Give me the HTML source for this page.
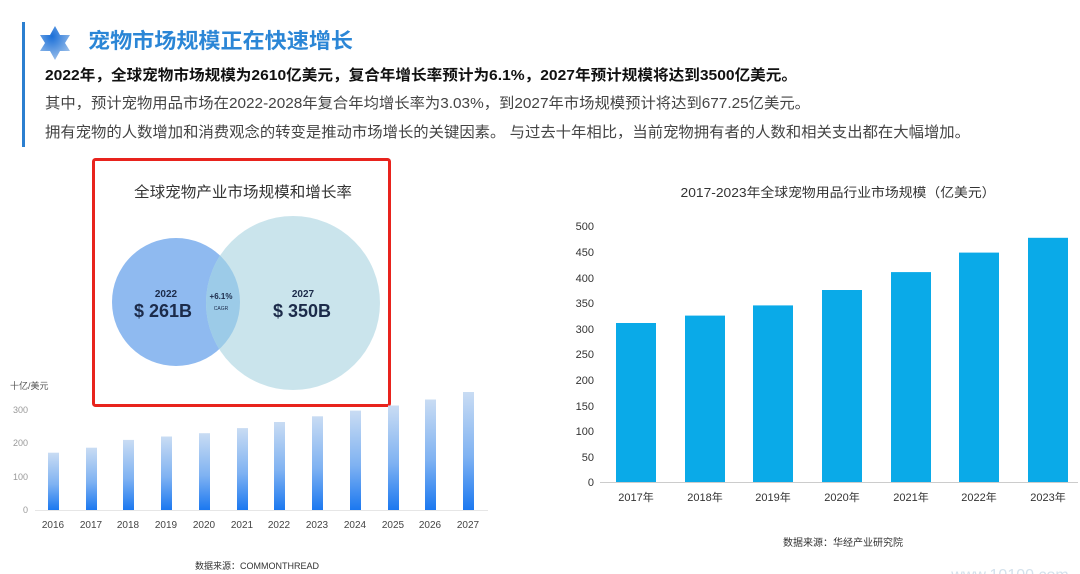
<!DOCTYPE html>
<html><head><meta charset="utf-8"><style>
html,body{margin:0;padding:0;background:#fff;overflow:hidden;}
svg{display:block;}
text{font-family:"Liberation Sans","Noto Sans CJK SC",sans-serif;}
</style></head><body>
<svg width="1080" height="574" viewBox="0 0 1080 574" xmlns="http://www.w3.org/2000/svg">
<defs>
<linearGradient id="bg" x1="0" y1="0" x2="0" y2="1">
<stop offset="0" stop-color="#c9dcf3"/><stop offset="0.55" stop-color="#7fb2f2"/><stop offset="1" stop-color="#1b78f0"/>
</linearGradient>
<radialGradient id="sg" cx="0.4" cy="0.3" r="0.8"><stop offset="0" stop-color="#1a6fd8"/><stop offset="1" stop-color="#a9c8ec"/></radialGradient>
</defs>
<rect x="0" y="0" width="1080" height="574" fill="#fff"/>
<rect x="22" y="22" width="3" height="125" fill="#2b7fd0"/>
<polygon points="55,26 60,35 70,35 65,43 70,51 60,51 55,60 50,51 40,51 45,43 40,35 50,35" fill="url(#sg)"/>
<text x="88" y="48" font-size="21" font-weight="bold" fill="#2b86d6" textLength="265" lengthAdjust="spacingAndGlyphs">宠物市场规模正在快速增长</text>
<text x="45" y="80" font-size="15" font-weight="bold" fill="#111" textLength="752" lengthAdjust="spacingAndGlyphs">2022年，全球宠物市场规模为2610亿美元，复合年增长率预计为6.1%，2027年预计规模将达到3500亿美元。</text>
<text x="45" y="108" font-size="15" fill="#444" textLength="765" lengthAdjust="spacingAndGlyphs">其中，预计宠物用品市场在2022-2028年复合年均增长率为3.03%，到2027年市场规模预计将达到677.25亿美元。</text>
<text x="45" y="137" font-size="15" fill="#444" textLength="925" lengthAdjust="spacingAndGlyphs">拥有宠物的人数增加和消费观念的转变是推动市场增长的关键因素。 与过去十年相比，当前宠物拥有者的人数和相关支出都在大幅增加。</text>

<text x="243" y="197" font-size="15" fill="#333" text-anchor="middle" textLength="218" lengthAdjust="spacingAndGlyphs">全球宠物产业市场规模和增长率</text>
<circle cx="176" cy="302" r="64" fill="#8fbaf0"/>
<circle cx="293" cy="303" r="87" fill="#c6e2ea" fill-opacity="0.92"/>
<clipPath id="c1"><circle cx="176" cy="302" r="64"/></clipPath>
<circle cx="293" cy="303" r="87" fill="#9ccbe8" clip-path="url(#c1)"/>
<text x="166" y="297" font-size="10" font-weight="bold" fill="#1c2b4a" text-anchor="middle">2022</text>
<text x="163" y="317" font-size="18" font-weight="bold" fill="#1c2b4a" text-anchor="middle">$ 261B</text>
<text x="221" y="299" font-size="8" font-weight="bold" fill="#1c2b4a" text-anchor="middle">+6.1%</text>
<text x="221" y="310" font-size="5" fill="#1c2b4a" text-anchor="middle">CAGR</text>
<text x="303" y="297" font-size="10" font-weight="bold" fill="#1c2b4a" text-anchor="middle">2027</text>
<text x="302" y="317" font-size="18" font-weight="bold" fill="#1c2b4a" text-anchor="middle">$ 350B</text>
<rect x="93.5" y="159.5" width="296" height="246" fill="none" stroke="#e8231d" stroke-width="3" rx="2"/>

<text x="10" y="389" font-size="9" fill="#555">十亿/美元</text>
<g font-size="9" fill="#999" text-anchor="end">
<text x="28" y="413">300</text><text x="28" y="446">200</text><text x="28" y="480">100</text><text x="28" y="513">0</text>
</g>
<line x1="35" y1="510.5" x2="488" y2="510.5" stroke="#e6e6e6"/>
<g fill="url(#bg)">
<rect x="48" y="452.7" width="11" height="57.3"/>
<rect x="86" y="447.7" width="11" height="62.3"/>
<rect x="123" y="439.9" width="11" height="70.1"/>
<rect x="161" y="436.5" width="11" height="73.5"/>
<rect x="199" y="433.2" width="11" height="76.8"/>
<rect x="237" y="428.1" width="11" height="81.9"/>
<rect x="274" y="422" width="11" height="88"/>
<rect x="312" y="416.3" width="11" height="93.7"/>
<rect x="350" y="410.6" width="11" height="99.4"/>
<rect x="388" y="405.5" width="11" height="104.5"/>
<rect x="425" y="399.5" width="11" height="110.5"/>
<rect x="463" y="392" width="11" height="118"/>
</g>
<g font-size="10" fill="#444" text-anchor="middle">
<text x="53" y="528">2016</text><text x="91" y="528">2017</text><text x="128" y="528">2018</text><text x="166" y="528">2019</text>
<text x="204" y="528">2020</text><text x="242" y="528">2021</text><text x="279" y="528">2022</text><text x="317" y="528">2023</text>
<text x="355" y="528">2024</text><text x="393" y="528">2025</text><text x="430" y="528">2026</text><text x="468" y="528">2027</text>
</g>
<text x="257" y="569" font-size="9" fill="#333" text-anchor="middle">数据来源：COMMONTHREAD</text>

<text x="838" y="197" font-size="13" fill="#333" text-anchor="middle" textLength="315" lengthAdjust="spacingAndGlyphs">2017-2023年全球宠物用品行业市场规模（亿美元）</text>
<g font-size="11" fill="#333" text-anchor="end">
<text x="594" y="230">500</text><text x="594" y="256">450</text><text x="594" y="282">400</text><text x="594" y="307">350</text>
<text x="594" y="333">300</text><text x="594" y="358">250</text><text x="594" y="384">200</text><text x="594" y="410">150</text>
<text x="594" y="435">100</text><text x="594" y="461">50</text><text x="594" y="486">0</text>
</g>
<line x1="600" y1="482.5" x2="1078" y2="482.5" stroke="#ccc"/>
<g fill="#0aaae8">
<rect x="616" y="323" width="40" height="159"/>
<rect x="685" y="315.6" width="40" height="166.4"/>
<rect x="753" y="305.4" width="40" height="176.6"/>
<rect x="822" y="290" width="40" height="192"/>
<rect x="891" y="272.1" width="40" height="209.9"/>
<rect x="959" y="252.6" width="40" height="229.4"/>
<rect x="1028" y="237.8" width="40" height="244.2"/>
</g>
<g font-size="11" fill="#333" text-anchor="middle">
<text x="636" y="501">2017年</text><text x="705" y="501">2018年</text><text x="773" y="501">2019年</text><text x="842" y="501">2020年</text>
<text x="911" y="501">2021年</text><text x="979" y="501">2022年</text><text x="1048" y="501">2023年</text>
</g>
<text x="843" y="546" font-size="10" fill="#333" text-anchor="middle">数据来源：华经产业研究院</text>
<text x="1010" y="580" font-size="16" fill="#d3e1ec" text-anchor="middle">www.10100.com</text>
</svg>
</body></html>
